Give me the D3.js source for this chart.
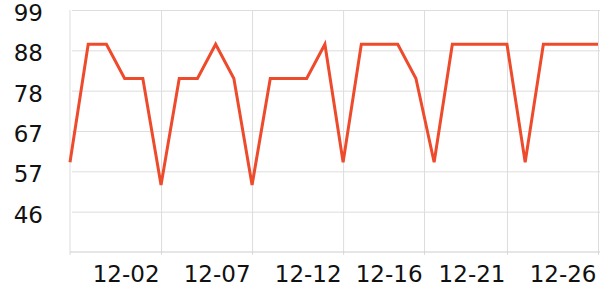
<!DOCTYPE html>
<html>
<head>
<meta charset="utf-8">
<script src="https://cdn.jsdelivr.net/npm/d3@7"></script>
<style>
  body { margin: 0; background: #fff; }
  text { font-family: "DejaVu Sans", sans-serif; }
</style>
</head>
<body>
<div id="chart"></div>
<script>
// data
var dates = ["2023-11-27", "2023-11-28", "2023-11-29", "2023-11-30", "2023-12-01",
  "2023-12-02", "2023-12-03", "2023-12-04", "2023-12-05", "2023-12-06",
  "2023-12-07", "2023-12-08", "2023-12-09", "2023-12-10", "2023-12-11",
  "2023-12-12", "2023-12-13", "2023-12-14", "2023-12-15", "2023-12-16",
  "2023-12-17", "2023-12-18", "2023-12-19", "2023-12-20", "2023-12-21",
  "2023-12-22", "2023-12-23", "2023-12-24", "2023-12-25", "2023-12-26"];
var values = [59, 90, 90, 81, 81, 53, 81, 81, 90, 81,
  53, 81, 81, 81, 90, 59, 90, 90, 90, 81,
  59, 90, 90, 90, 90, 59, 90, 90, 90, 90];
var xTicks = ["2023-12-02T00:00", "2023-12-07T00:00", "2023-12-12T00:00",
  "2023-12-16T10:40", "2023-12-21T00:00", "2023-12-26T00:00"];
var yTicks = [46, 56.6, 67.2, 77.8, 88.4, 99];
var yDomain = [35.4, 99];

var svgWidth = 600;
var svgHeight = 300;
var margin = { top: 10, right: 2, bottom: 48, left: 70 };
var width = svgWidth - margin.left - margin.right;
var height = svgHeight - margin.top - margin.bottom;

var parse = d3.isoParse;
var data = dates.map(function (d, i) {
  return { date: parse(d), value: values[i] };
});

var svg = d3.select("#chart")
  .append("svg")
  .attr("width", svgWidth)
  .attr("height", svgHeight);

var chartGroup = svg.append("g")
  .attr("transform", `translate(${margin.left}, ${margin.top})`);

// scales
var x = d3.scaleTime()
  .domain(d3.extent(data, d => d.date))
  .range([0, width]);

var y = d3.scaleLinear()
  .domain(yDomain)
  .range([height, 0]);

// horizontal grid + y labels
var leftAxis = d3.axisLeft(y)
  .tickValues(yTicks)
  .tickSize(-width - 2)
  .tickFormat(d3.format(".0f"));

var yAxis = chartGroup.append("g")
  .call(leftAxis);
yAxis.select(".domain").remove();
yAxis.selectAll(".tick line")
  .attr("x1", 2)
  .attr("x2", width + 2)
  .attr("stroke", "#dddddd");
yAxis.selectAll(".tick text")
  .attr("x", -27)
  .attr("dy", "0.45em")
  .attr("font-size", 23)
  .attr("fill", "#111");

// vertical grid + x labels
var bottomAxis = d3.axisBottom(x)
  .tickValues(xTicks.map(parse))
  .tickSize(0)
  .tickFormat(d3.timeFormat("%m-%d"));

var xAxis = chartGroup.append("g")
  .attr("transform", `translate(0, ${height})`)
  .call(bottomAxis);
xAxis.select(".domain").remove();
xAxis.selectAll(".tick text")
  .attr("text-anchor", "end")
  .attr("x", -2)
  .attr("y", 0)
  .attr("dy", 30)
  .attr("font-size", 23)
  .attr("fill", "#111");

xAxis.selectAll(".tick").append("line")
  .attr("y1", -height)
  .attr("y2", 3)
  .attr("stroke", "#dddddd");

// left and bottom axis lines
chartGroup.append("line")
  .attr("x1", 0).attr("x2", 0)
  .attr("y1", 0).attr("y2", height + 3)
  .attr("stroke", "#dddddd");

chartGroup.append("line")
  .attr("x1", 0).attr("x2", width + 2)
  .attr("y1", height).attr("y2", height)
  .attr("stroke", "#cccccc");

// the line
var line = d3.line()
  .x(d => x(d.date))
  .y(d => y(d.value));

chartGroup.append("path")
  .datum(data)
  .attr("fill", "none")
  .attr("stroke", "#ee4a2c")
  .attr("stroke-width", 3)
  .attr("d", line);
</script>
</body>
</html>
